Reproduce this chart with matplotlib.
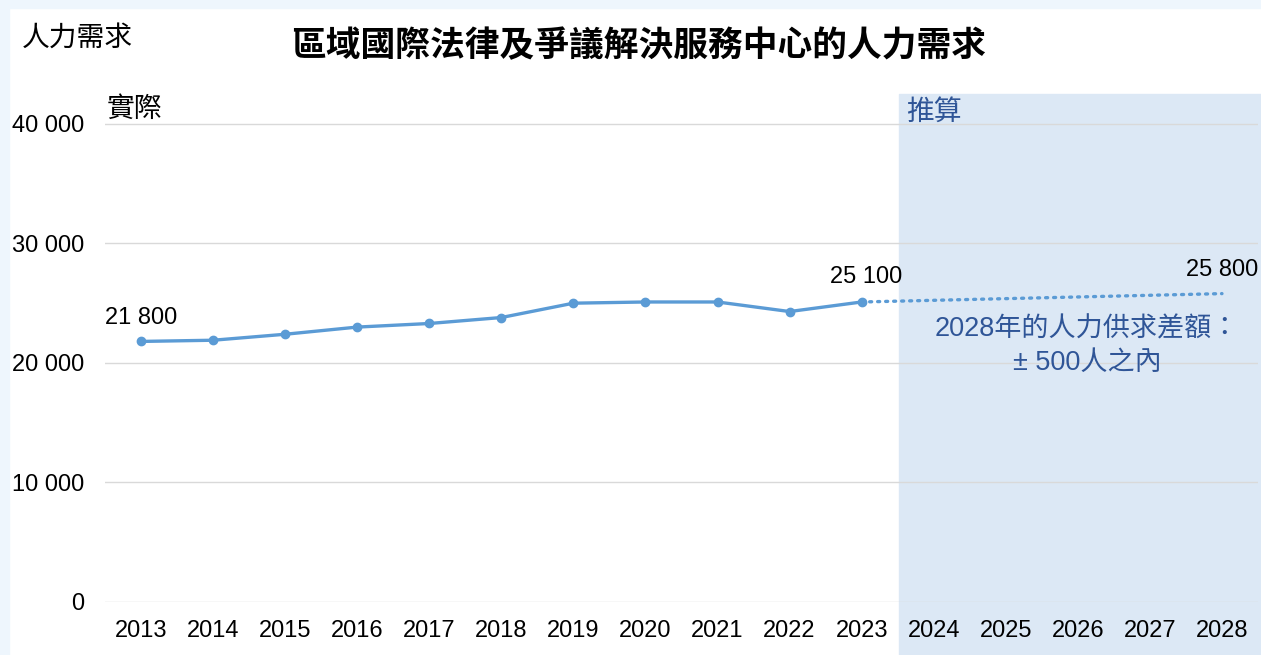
import matplotlib
matplotlib.use("Agg")
import matplotlib.pyplot as plt
from matplotlib.patches import Rectangle

plt.rcParams['font.family'] = ['Liberation Sans', 'Noto Sans CJK TC', 'DejaVu Sans']

years = [2013, 2014, 2015, 2016, 2017, 2018, 2019, 2020, 2021, 2022, 2023, 2024, 2025, 2026, 2027, 2028]
actual_years = [2013, 2014, 2015, 2016, 2017, 2018, 2019, 2020, 2021, 2022, 2023]
actual_values = [21800, 21900, 22400, 23000, 23300, 23800, 25000, 25100, 25100, 24300, 25100]
proj_years = [2023, 2028]
proj_values = [25100, 25800]
y_ticks = [0, 10000, 20000, 30000, 40000]

title = "區域國際法律及爭議解決服務中心的人力需求"
y_label = "人力需求"
actual_label = "實際"
proj_label = "推算"
note = "2028年的人力供求差額：\n± 500人之內"

W, H = 1261, 655
fig = plt.figure(figsize=(W / 100, H / 100), dpi=100)
fig.patch.set_facecolor('white')

def fx(px):
    return px / W

def fy(py):
    return 1 - py / H

border = '#EEF6FD'
fig.add_artist(Rectangle((0, 0), fx(9), 1, transform=fig.transFigure, color=border, zorder=0))
fig.add_artist(Rectangle((0, fy(8)), 1, 1 - fy(8), transform=fig.transFigure, color=border, zorder=0))
shade = '#DCE8F5'
fig.add_artist(Rectangle((fx(899), 0), 1 - fx(899), fy(94), transform=fig.transFigure, color=shade, zorder=0))

ax = fig.add_axes([fx(105), fy(602), fx(1258) - fx(105), fy(94) - fy(602)])
ax.set_facecolor('none')
ax.set_xlim(2012.5, 2028.5)
ax.set_ylim(0, 42500)

line_color = '#5B9BD5'
ax.plot(actual_years, actual_values, color=line_color, lw=2.4, marker='o', ms=6, zorder=3)
ax.plot(proj_years, proj_values, color=line_color, lw=2.4, linestyle=(0, (0.6, 1.8)),
        dash_capstyle='round', zorder=3)

tick_fs = 17
ax.set_yticks(y_ticks)
ax.set_yticklabels([f"{v:,}".replace(",", " ") for v in y_ticks], fontsize=tick_fs)
ax.set_xticks(years)
ax.set_xticklabels([str(y) for y in years], fontsize=tick_fs)
ax.tick_params(axis='both', length=0, colors='black')
ax.tick_params(axis='y', pad=15)
ax.tick_params(axis='x', pad=13)
ax.grid(axis='y', color='#D9D9D9', lw=1)
ax.set_axisbelow(True)
for s in ax.spines.values():
    s.set_visible(False)

lab_fmt = lambda v: f"{v:,}".replace(",", " ")
ax.annotate(lab_fmt(actual_values[0]), (actual_years[0], actual_values[0]), xytext=(0, 17),
            textcoords='offset points', ha='center', va='center', fontsize=tick_fs)
ax.annotate(lab_fmt(actual_values[-1]), (actual_years[-1], actual_values[-1]), xytext=(3, 18),
            textcoords='offset points', ha='center', va='center', fontsize=tick_fs)
ax.annotate(lab_fmt(proj_values[-1]), (proj_years[-1], proj_values[-1]), xytext=(0, 17),
            textcoords='offset points', ha='center', va='center', fontsize=tick_fs)

cjk = ['Noto Sans CJK TC', 'DejaVu Sans']
fig.text(fx(639), fy(46), title, ha='center', va='center', fontsize=25, fontweight='bold',
         family=cjk, color='black')
fig.text(fx(22), fy(38), y_label, ha='left', va='center', fontsize=20, family=cjk, color='black')
fig.text(fx(107), fy(109), actual_label, ha='left', va='center', fontsize=20, family=cjk, color='black')
fig.text(fx(906), fy(112), proj_label, ha='left', va='center', fontsize=20, family=cjk, color='#2F5597')
fig.text(fx(1087), fy(346), note, ha='center', va='center', fontsize=19.5,
         family=['Liberation Sans', 'Noto Sans CJK TC'], color='#2F5597', linespacing=1.35)

fig.savefig('out.png', dpi=100, facecolor=fig.get_facecolor())
